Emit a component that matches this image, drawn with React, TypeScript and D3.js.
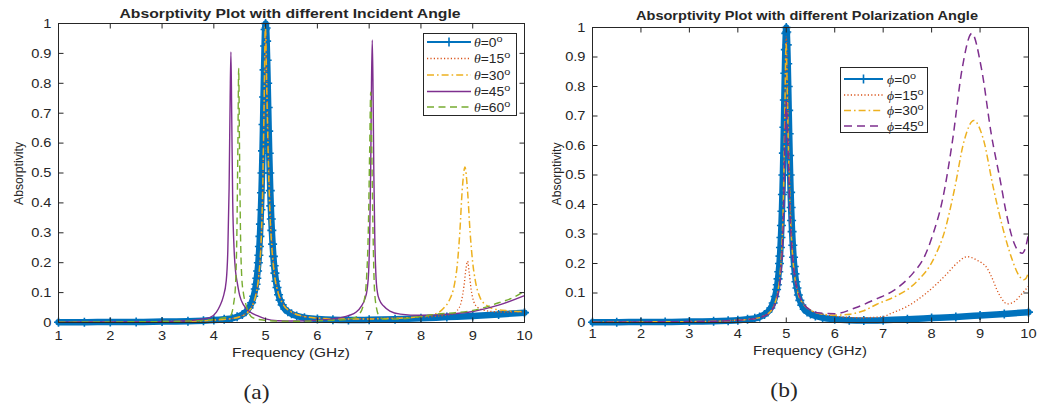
import React from 'react';
import * as d3 from 'd3';

// ---------- tick labels ----------
const xTicks = [1, 2, 3, 4, 5, 6, 7, 8, 9, 10];
const yTicks = [0, 0.1, 0.2, 0.3, 0.4, 0.5, 0.6, 0.7, 0.8, 0.9, 1];
const yTickLabels = ['0', '0.1', '0.2', '0.3', '0.4', '0.5', '0.6', '0.7', '0.8', '0.9', '1'];

// ---------- panel (a): incident angle ----------
const aFreq0 = [1, 1.5, 2, 2.5, 3, 3.5, 3.8, 4.0, 4.2, 4.35, 4.45, 4.55, 4.62, 4.68, 4.73, 4.77, 4.8, 4.815, 4.83, 4.845, 4.86, 4.87, 4.88, 4.89, 4.9, 4.91, 4.92, 4.93, 4.94, 4.95, 4.96, 4.97, 4.98, 4.99, 5.0, 5.01, 5.02, 5.03, 5.04, 5.05, 5.06, 5.07, 5.08, 5.09, 5.1, 5.11, 5.12, 5.135, 5.15, 5.165, 5.18, 5.2, 5.22, 5.25, 5.28, 5.32, 5.37, 5.43, 5.5, 5.6, 5.75, 6.0, 6.3, 6.6, 7.0, 7.5, 8.0, 8.5, 9.0, 9.5, 10];
const aAbs0 = [0.001, 0.001, 0.002, 0.002, 0.003, 0.004, 0.006, 0.008, 0.011, 0.014, 0.019, 0.027, 0.036, 0.049, 0.066, 0.088, 0.112, 0.128, 0.148, 0.172, 0.2, 0.225, 0.254, 0.288, 0.329, 0.377, 0.434, 0.5, 0.574, 0.662, 0.754, 0.845, 0.925, 0.98, 1.0, 0.985, 0.941, 0.877, 0.8, 0.719, 0.64, 0.566, 0.5, 0.441, 0.39, 0.346, 0.308, 0.262, 0.221, 0.19, 0.165, 0.138, 0.117, 0.093, 0.075, 0.059, 0.045, 0.036, 0.029, 0.022, 0.016, 0.012, 0.009, 0.008, 0.009, 0.011, 0.014, 0.018, 0.022, 0.027, 0.033];

const aFreq15 = [1, 2, 3, 3.5, 4, 4.3, 4.5, 4.65, 4.75, 4.82, 4.87, 4.91, 4.94, 4.97, 5.0, 5.03, 5.06, 5.09, 5.13, 5.18, 5.25, 5.35, 5.5, 5.7, 6.0, 6.5, 7.0, 7.5, 8.0, 8.3, 8.5, 8.62, 8.7, 8.78, 8.83, 8.87, 8.9, 8.93, 8.97, 9.02, 9.1, 9.2, 9.35, 9.6, 10];
const aAbs15 = [0.001, 0.002, 0.003, 0.004, 0.008, 0.012, 0.02, 0.035, 0.06, 0.1, 0.16, 0.26, 0.4, 0.7, 0.98, 0.78, 0.55, 0.38, 0.25, 0.16, 0.1, 0.06, 0.035, 0.022, 0.015, 0.012, 0.013, 0.015, 0.018, 0.021, 0.025, 0.03, 0.04, 0.07, 0.12, 0.18, 0.205, 0.17, 0.11, 0.07, 0.05, 0.042, 0.037, 0.035, 0.036];

const aFreq30 = [1, 2, 3, 3.5, 4, 4.3, 4.5, 4.65, 4.75, 4.82, 4.87, 4.91, 4.94, 4.97, 4.995, 5.02, 5.05, 5.08, 5.12, 5.17, 5.24, 5.34, 5.5, 5.7, 6.0, 6.5, 7.0, 7.5, 8.0, 8.3, 8.45, 8.55, 8.65, 8.7, 8.75, 8.8, 8.85, 8.9, 8.95, 9.0, 9.05, 9.15, 9.25, 9.4, 9.7, 10];
const aAbs30 = [0.001, 0.002, 0.003, 0.004, 0.008, 0.012, 0.019, 0.033, 0.058, 0.1, 0.16, 0.26, 0.42, 0.72, 0.99, 0.8, 0.56, 0.38, 0.25, 0.16, 0.1, 0.06, 0.035, 0.022, 0.015, 0.012, 0.012, 0.014, 0.02, 0.03, 0.05, 0.075, 0.13, 0.19, 0.3, 0.45, 0.52, 0.44, 0.3, 0.2, 0.14, 0.08, 0.06, 0.046, 0.039, 0.036];

const aFreq45 = [1, 2, 3, 3.5, 3.8, 3.93, 4.05, 4.12, 4.18, 4.24, 4.27, 4.295, 4.315, 4.33, 4.345, 4.365, 4.39, 4.42, 4.45, 4.5, 4.58, 4.7, 4.84, 5.0, 5.23, 5.6, 6.0, 6.3, 6.6, 6.75, 6.85, 6.92, 6.96, 6.99, 7.01, 7.03, 7.045, 7.06, 7.075, 7.09, 7.11, 7.13, 7.16, 7.2, 7.28, 7.4, 7.6, 8.0, 8.5, 9.0, 9.5, 10];
const aAbs45 = [0.001, 0.002, 0.003, 0.006, 0.012, 0.017, 0.035, 0.057, 0.085, 0.14, 0.24, 0.45, 0.75, 0.905, 0.7, 0.4, 0.25, 0.17, 0.136, 0.09, 0.057, 0.035, 0.023, 0.012, 0.006, 0.005, 0.007, 0.012, 0.023, 0.035, 0.055, 0.08, 0.11, 0.17, 0.29, 0.52, 0.8, 0.945, 0.78, 0.5, 0.27, 0.16, 0.1, 0.075, 0.055, 0.038, 0.028, 0.024, 0.028, 0.037, 0.058, 0.09];

const aFreq60 = [1, 2, 3, 3.5, 4.0, 4.2, 4.32, 4.38, 4.42, 4.445, 4.465, 4.48, 4.495, 4.515, 4.54, 4.57, 4.62, 4.74, 4.9, 5.2, 5.6, 6.0, 6.4, 6.7, 6.82, 6.9, 6.95, 6.985, 7.01, 7.03, 7.05, 7.075, 7.1, 7.14, 7.2, 7.3, 7.6, 8.0, 8.3, 8.7, 9.0, 9.5, 9.8, 10];
const aAbs60 = [0.001, 0.002, 0.003, 0.005, 0.01, 0.016, 0.023, 0.06, 0.13, 0.3, 0.6, 0.85, 0.6, 0.3, 0.15, 0.1, 0.06, 0.017, 0.009, 0.005, 0.004, 0.006, 0.008, 0.015, 0.03, 0.07, 0.15, 0.32, 0.58, 0.77, 0.58, 0.3, 0.12, 0.05, 0.02, 0.011, 0.012, 0.02, 0.028, 0.033, 0.04, 0.066, 0.085, 0.105];

// ---------- panel (b): polarization angle ----------
const bFreq0 = [1, 1.5, 2, 2.5, 3, 3.5, 3.8, 4.0, 4.2, 4.35, 4.45, 4.55, 4.62, 4.68, 4.73, 4.77, 4.8, 4.815, 4.83, 4.845, 4.86, 4.87, 4.88, 4.89, 4.9, 4.91, 4.92, 4.93, 4.94, 4.95, 4.96, 4.97, 4.98, 4.99, 5.0, 5.01, 5.02, 5.03, 5.04, 5.05, 5.06, 5.07, 5.08, 5.09, 5.1, 5.11, 5.12, 5.135, 5.15, 5.165, 5.18, 5.2, 5.22, 5.25, 5.28, 5.32, 5.37, 5.43, 5.5, 5.6, 5.75, 6.0, 6.3, 6.6, 7.0, 7.5, 8.0, 8.5, 9.0, 9.5, 10];
const bAbs0 = [0.001, 0.001, 0.002, 0.002, 0.003, 0.004, 0.006, 0.008, 0.011, 0.014, 0.019, 0.027, 0.036, 0.049, 0.066, 0.088, 0.112, 0.128, 0.148, 0.172, 0.2, 0.225, 0.254, 0.288, 0.329, 0.377, 0.434, 0.5, 0.574, 0.662, 0.754, 0.845, 0.925, 0.98, 1.0, 0.985, 0.941, 0.877, 0.8, 0.719, 0.64, 0.566, 0.5, 0.441, 0.39, 0.346, 0.308, 0.262, 0.221, 0.19, 0.165, 0.138, 0.117, 0.093, 0.075, 0.059, 0.045, 0.036, 0.029, 0.022, 0.016, 0.011, 0.008, 0.007, 0.008, 0.011, 0.015, 0.019, 0.024, 0.029, 0.035];

const bFreq15 = [1, 2, 3, 3.5, 4, 4.3, 4.5, 4.65, 4.75, 4.82, 4.87, 4.91, 4.94, 4.97, 5.0, 5.03, 5.06, 5.09, 5.13, 5.18, 5.25, 5.35, 5.5, 5.7, 6.0, 6.5, 7.0, 7.15, 7.5, 7.84, 8.1, 8.32, 8.55, 8.73, 8.95, 9.15, 9.25, 9.35, 9.45, 9.56, 9.7, 9.84, 9.92, 10];
const bAbs15 = [0.001, 0.002, 0.003, 0.004, 0.008, 0.012, 0.02, 0.035, 0.06, 0.1, 0.16, 0.26, 0.4, 0.7, 0.97, 0.78, 0.55, 0.38, 0.25, 0.16, 0.1, 0.065, 0.042, 0.03, 0.022, 0.016, 0.02, 0.03, 0.055, 0.093, 0.13, 0.166, 0.205, 0.223, 0.21, 0.183, 0.15, 0.11, 0.08, 0.063, 0.07, 0.093, 0.108, 0.123];

const bFreq30 = [1, 2, 3, 3.5, 4, 4.3, 4.5, 4.65, 4.75, 4.82, 4.87, 4.91, 4.94, 4.97, 4.995, 5.02, 5.05, 5.08, 5.12, 5.17, 5.24, 5.34, 5.5, 5.7, 6.0, 6.3, 6.6, 6.87, 7.27, 7.67, 8.07, 8.27, 8.47, 8.67, 8.87, 9.07, 9.27, 9.47, 9.67, 9.8, 9.9, 9.95, 10];
const bAbs30 = [0.001, 0.002, 0.003, 0.004, 0.008, 0.012, 0.019, 0.033, 0.058, 0.1, 0.16, 0.26, 0.42, 0.7, 0.95, 0.78, 0.55, 0.38, 0.25, 0.16, 0.1, 0.065, 0.042, 0.03, 0.025, 0.028, 0.04, 0.062, 0.09, 0.135, 0.225, 0.31, 0.45, 0.615, 0.685, 0.62, 0.46, 0.32, 0.21, 0.16, 0.145, 0.15, 0.17];

const bFreq45 = [1, 2, 3, 3.5, 4, 4.3, 4.5, 4.65, 4.75, 4.82, 4.87, 4.91, 4.94, 4.97, 5.0, 5.03, 5.06, 5.09, 5.13, 5.18, 5.25, 5.35, 5.5, 5.7, 6.0, 6.43, 6.83, 7.23, 7.63, 7.83, 8.03, 8.23, 8.43, 8.63, 8.83, 9.03, 9.23, 9.43, 9.53, 9.7, 9.8, 9.87, 9.94, 10];
const bAbs45 = [0.001, 0.002, 0.003, 0.004, 0.008, 0.012, 0.019, 0.032, 0.055, 0.09, 0.14, 0.22, 0.35, 0.6, 0.75, 0.62, 0.45, 0.32, 0.22, 0.15, 0.1, 0.065, 0.042, 0.032, 0.03, 0.05, 0.078, 0.11, 0.17, 0.216, 0.3, 0.42, 0.615, 0.86, 0.98, 0.86, 0.64, 0.47, 0.38, 0.27, 0.24, 0.235, 0.255, 0.3];

const aLegendLabels = ['0', '15', '30', '45', '60'];
const bLegendLabels = ['0', '15', '30', '45'];

// ---------- styles ----------
const BLUE = '#0072BD';
const RED = '#D95319';
const YELLOW = '#EDB120';
const PURPLE = '#7E2F8E';
const GREEN = '#77AC30';
const AXIS = '#262626';
const SANS = '"Liberation Sans", Arial, Helvetica, sans-serif';
const SERIF = '"Liberation Serif", "Times New Roman", serif';

type Style = { color: string; width: number; dash?: string; markers?: boolean };

const styleBlue: Style = { color: BLUE, width: 2, markers: true };
const styleRed: Style = { color: RED, width: 1.3, dash: '1.2,2.2' };
const styleYellow: Style = { color: YELLOW, width: 1.5, dash: '7,3,1.6,3' };
const stylePurpleSolid: Style = { color: PURPLE, width: 1.4 };
const stylePurpleDash: Style = { color: PURPLE, width: 1.5, dash: '8,5' };
const styleGreen: Style = { color: GREEN, width: 1.4, dash: '7,4.5' };

function zip(fx: number[], fy: number[]): [number, number][] {
  return fx.map((f, i) => [f, fy[i]]);
}

function SText(props: {
  x: number; y: number; children: React.ReactNode; anchor?: string; size?: number; sx?: number;
  weight?: string | number; family?: string; rotate?: number; textLength?: number;
}) {
  const { x, y, children, anchor = 'middle', size = 11, sx = 1.3, weight = 'normal', family = SANS, rotate = 0, textLength } = props;
  return (
    <g transform={`translate(${x},${y}) rotate(${rotate}) scale(${textLength ? 1 : sx},1)`}>
      <text
        x={0}
        y={0}
        textAnchor={anchor as any}
        fontSize={size}
        fontWeight={weight as any}
        fontFamily={family}
        fill={AXIS}
        textLength={textLength}
        lengthAdjust={textLength ? 'spacingAndGlyphs' : undefined}
      >
        {children}
      </text>
    </g>
  );
}

const PLUS = 'M-4.5,0H4.5M0,-4.5V4.5';

type Series = { data: [number, number][]; style: Style };

function Panel(props: {
  box: { l: number; r: number; t: number; b: number };
  title: string; titleX: number; titleY: number; titleLen: number;
  xLabelX: number; xLabelY: number; xLabelLen: number;
  yLabelX: number; yLabelY: number; yLabelLen: number;
  series: Series[];
  legend: { l: number; r: number; t: number; b: number; rows: number[]; lineX0: number; lineX1: number; textX: number; sym: string; labels: string[]; styles: Style[] };
  sub: string; subX: number; subY: number;
  xTickY: number;
}) {
  const { box, series, legend } = props;
  const x = d3.scaleLinear().domain([1, 10]).range([box.l, box.r]);
  const y = d3.scaleLinear().domain([0, 1]).range([box.b, box.t]);
  const line = d3
    .line<[number, number]>()
    .x((d) => x(d[0]))
    .y((d) => y(d[1]))
    .curve(d3.curveMonotoneX);
  const TL = 5;

  return (
    <g>
      {series.map((s, i) => {
        const d = line(s.data) || '';
        return (
          <g key={i}>
            {s.style.markers && (
              <path d={d} fill="none" stroke={s.style.color} strokeWidth={6.5} strokeLinejoin="round" strokeLinecap="round" />
            )}
            <path
              d={d}
              fill="none"
              stroke={s.style.color}
              strokeWidth={s.style.width}
              strokeDasharray={s.style.dash}
              strokeLinejoin="round"
            />
            {s.style.markers &&
              s.data.map((p, j) => (
                <path key={j} d={PLUS} transform={`translate(${x(p[0])},${y(p[1])})`} stroke={s.style.color} strokeWidth={1.6} fill="none" />
              ))}
          </g>
        );
      })}

      <rect x={box.l} y={box.t} width={box.r - box.l} height={box.b - box.t} fill="none" stroke={AXIS} strokeWidth={1} />
      {xTicks.map((t) => (
        <g key={'xt' + t}>
          <line x1={x(t)} x2={x(t)} y1={box.b} y2={box.b - TL} stroke={AXIS} />
          <line x1={x(t)} x2={x(t)} y1={box.t} y2={box.t + TL} stroke={AXIS} />
          <SText x={x(t)} y={props.xTickY} size={12} sx={1.22}>{String(t)}</SText>
        </g>
      ))}
      {yTicks.map((t, i) => (
        <g key={'yt' + t}>
          <line x1={box.l} x2={box.l + TL} y1={y(t)} y2={y(t)} stroke={AXIS} />
          <line x1={box.r} x2={box.r - TL} y1={y(t)} y2={y(t)} stroke={AXIS} />
          <SText x={box.l - 7} y={y(t) + 4.3} anchor="end" size={12} sx={1.22}>{yTickLabels[i]}</SText>
        </g>
      ))}

      <SText x={props.titleX} y={props.titleY} size={12.5} weight="bold" textLength={props.titleLen}>{props.title}</SText>
      <SText x={props.xLabelX} y={props.xLabelY} size={13} textLength={props.xLabelLen}>Frequency (GHz)</SText>
      <SText x={props.yLabelX} y={props.yLabelY} size={13.5} rotate={-90} textLength={props.yLabelLen}>Absorptivity</SText>
      <SText x={props.subX} y={props.subY} size={21} family={SERIF} sx={1.12}>{props.sub}</SText>

      <rect x={legend.l} y={legend.t} width={legend.r - legend.l} height={legend.b - legend.t} fill="#fff" stroke={AXIS} strokeWidth={1} />
      {legend.labels.map((lab, i) => {
        const st = legend.styles[i];
        const ry = legend.rows[i];
        return (
          <g key={'lg' + i}>
            <line x1={legend.lineX0} x2={legend.lineX1} y1={ry} y2={ry} stroke={st.color} strokeWidth={st.width} strokeDasharray={st.dash} />
            {st.markers && (
              <path d={PLUS} transform={`translate(${(legend.lineX0 + legend.lineX1) / 2},${ry})`} stroke={st.color} strokeWidth={1.6} fill="none" />
            )}
            <g transform={`translate(${legend.textX},${ry + 4.5}) scale(1.15,1)`}>
              <text x={0} y={0} fontSize={12} fontFamily={SANS} fill={AXIS}>
                <tspan fontFamily={SERIF} fontStyle="italic">{legend.sym}</tspan>
                <tspan>={lab}</tspan>
                <tspan dy={-5} fontSize={9.5}>o</tspan>
              </text>
            </g>
          </g>
        );
      })}
    </g>
  );
}

export default function App() {
  const aSeries: Series[] = [
    { data: zip(aFreq0, aAbs0), style: styleBlue },
    { data: zip(aFreq15, aAbs15), style: styleRed },
    { data: zip(aFreq30, aAbs30), style: styleYellow },
    { data: zip(aFreq45, aAbs45), style: stylePurpleSolid },
    { data: zip(aFreq60, aAbs60), style: styleGreen },
  ];
  const bSeries: Series[] = [
    { data: zip(bFreq0, bAbs0), style: styleBlue },
    { data: zip(bFreq15, bAbs15), style: styleRed },
    { data: zip(bFreq30, bAbs30), style: styleYellow },
    { data: zip(bFreq45, bAbs45), style: stylePurpleDash },
  ];

  return (
    <svg width={1037} height={404} style={{ position: 'absolute', left: 0, top: 0, background: '#fff' }}>
      <rect x={0} y={0} width={1037} height={404} fill="#fff" />
      <Panel
        box={{ l: 58.5, r: 524.5, t: 23.5, b: 322.5 }}
        title="Absorptivity Plot with different Incident Angle"
        titleX={290}
        titleY={17.5}
        titleLen={341}
        xLabelX={291}
        xLabelY={356.5}
        xLabelLen={118}
        yLabelX={23}
        yLabelY={173.5}
        yLabelLen={63}
        xTickY={339.5}
        series={aSeries}
        legend={{
          l: 423.5, r: 516.5, t: 33.5, b: 115.5,
          rows: [42, 58.5, 75, 91.5, 107],
          lineX0: 427, lineX1: 471, textX: 474,
          sym: 'θ', labels: aLegendLabels,
          styles: [styleBlue, styleRed, styleYellow, stylePurpleSolid, styleGreen],
        }}
        sub="(a)"
        subX={256.5}
        subY={399}
      />
      <Panel
        box={{ l: 592.5, r: 1028.5, t: 27.5, b: 322.5 }}
        title="Absorptivity Plot with different Polarization Angle"
        titleX={807}
        titleY={19.5}
        titleLen={342}
        xLabelX={810}
        xLabelY={354.5}
        xLabelLen={114}
        yLabelX={561}
        yLabelY={174}
        yLabelLen={63}
        xTickY={338}
        series={bSeries}
        legend={{
          l: 840.5, r: 927.5, t: 67.5, b: 132.5,
          rows: [79, 95, 110.5, 126],
          lineX0: 844, lineX1: 883, textX: 887,
          sym: 'ϕ', labels: bLegendLabels,
          styles: [styleBlue, styleRed, styleYellow, stylePurpleDash],
        }}
        sub="(b)"
        subX={784}
        subY={397}
      />
    </svg>
  );
}
